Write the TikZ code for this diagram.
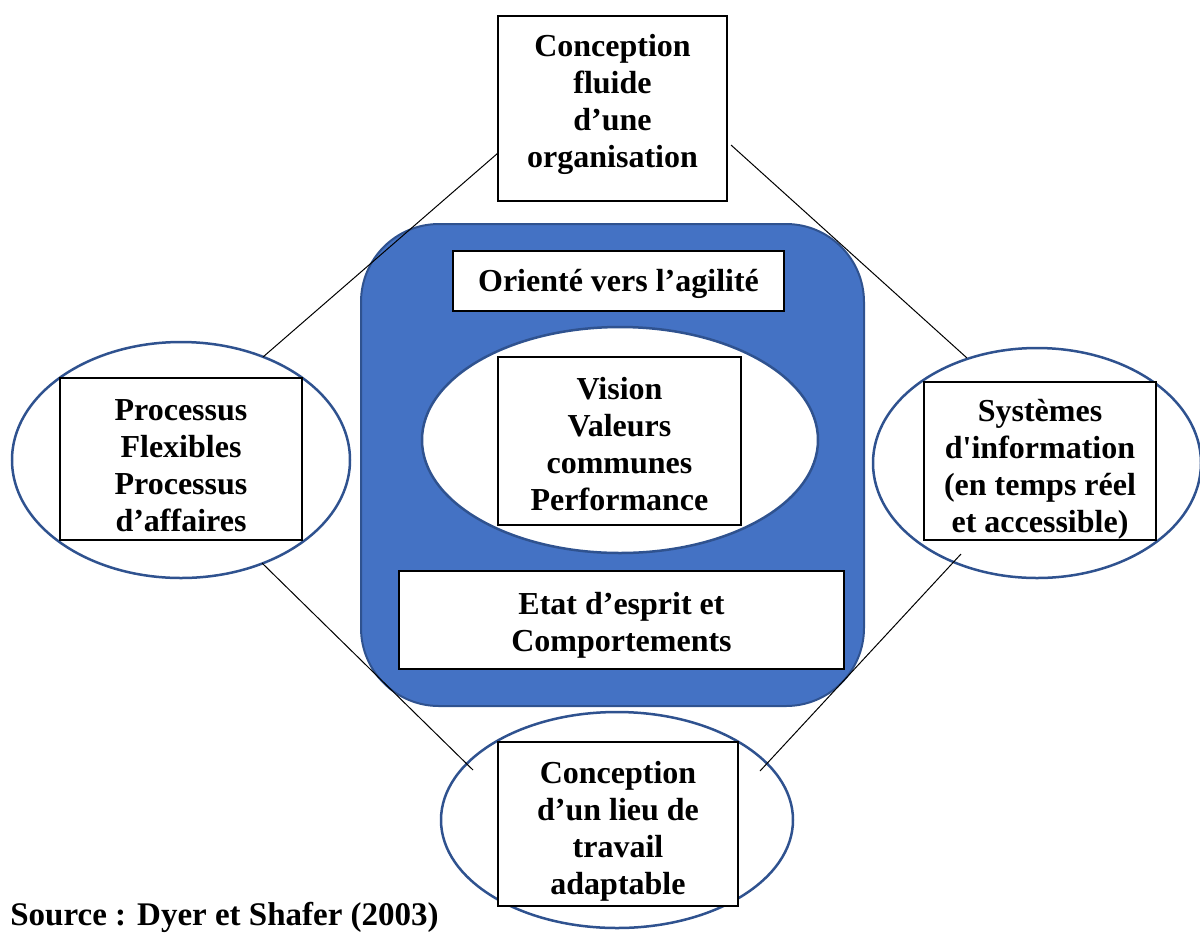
\documentclass[tikz,border=0pt]{standalone}
\usepackage{fontspec}
\newfontfamily\tms{Liberation Serif}
\usetikzlibrary{shapes.geometric,calc}
\definecolor{fillblue}{HTML}{4472C4}
\definecolor{edgeblue}{HTML}{2F528F}
\begin{document}
\begin{tikzpicture}[x=0.5pt,y=-0.5pt,
  txt/.style={font=\tms\bfseries\fontsize{16}{18.5}\selectfont, align=center, inner sep=0pt},
  box/.style={draw=black, line width=1pt, fill=white, rectangle, inner sep=0pt},
  oval/.style={ellipse, draw=edgeblue, line width=1.25pt, fill=white, inner sep=0pt},
  link/.style={draw=black, line width=0.5pt}]
\useasboundingbox (0,0) rectangle (1200,933);
% central frame
\node[draw=edgeblue, fill=fillblue, line width=1pt, rounded corners=39pt,
      minimum width=251.5pt, minimum height=241pt, inner sep=0pt] (frame) at (612.5,465) {};
\node[oval, minimum width=198pt, minimum height=113pt] (inner) at (620,440) {};
\node[box, minimum width=165.5pt, minimum height=30pt] (agil) at (618.5,281) {};
\node[txt] (agilt) at ($(agil.center)+(0,3)$) {Orienté vers l’agilité};
\node[box, minimum width=121.5pt, minimum height=84pt] (vision) at (619.5,441) {};
\node[txt] (visiont) at ($(vision.center)+(0,3)$) {Vision\\Valeurs\\communes\\Performance};
\node[box, minimum width=222.5pt, minimum height=49pt] (etat) at (621.5,620) {};
\node[txt] (etatt) at ($(etat.center)+(0,5)$) {Etat d’esprit et\\Comportements};
% top box
\node[box, minimum width=114.5pt, minimum height=92.5pt] (T) at (612.5,108.5) {};
\node[txt] (Tt) at ($(T.center)+(0,-4)$) {Conception\\fluide\\d’une\\organisation};
% outer ellipses
\node[oval, minimum width=169pt, minimum height=118pt] (L) at (181,460) {};
\node[box, minimum width=121pt, minimum height=81pt] (Lbox) at (181,459) {};
\node[txt] (Lt) at ($(Lbox.center)+(0,7)$) {Processus\\Flexibles\\Processus\\d’affaires};
\node[oval, minimum width=164pt, minimum height=115pt] (R) at (1037,463) {};
\node[box, minimum width=116pt, minimum height=79pt] (Rbox) at (1040,461) {};
\node[txt] (Rt) at ($(Rbox.center)+(0,8)$) {Systèmes\\d'information\\(en temps réel\\et accessible)};
\node[oval, minimum width=176pt, minimum height=108pt] (B) at (617,820) {};
\node[box, minimum width=120pt, minimum height=82pt] (Bbox) at (618,824) {};
\node[txt] (Bt) at ($(Bbox.center)+(0,7)$) {Conception\\d’un lieu de\\travail\\adaptable};
% connectors
\draw[link] ($(T.center)+(-114.5,44.5)$) -- ($(L.center)+(82,-103)$);
\draw[link] ($(T.center)+(118.5,36.5)$) -- ($(R.center)+(-70,-105)$);
\draw[link] ($(L.center)+(81,103)$) -- ($(B.center)+(-144,-50)$);
\draw[link] ($(R.center)+(-76,91)$) -- ($(B.center)+(143,-49)$);
% source
\node[font=\tms\bfseries\fontsize{16.5}{19}\selectfont, anchor=base west, inner sep=0pt] (src) at (10,925) {Source : Dyer et Shafer (2003)};
\end{tikzpicture}
\end{document}
